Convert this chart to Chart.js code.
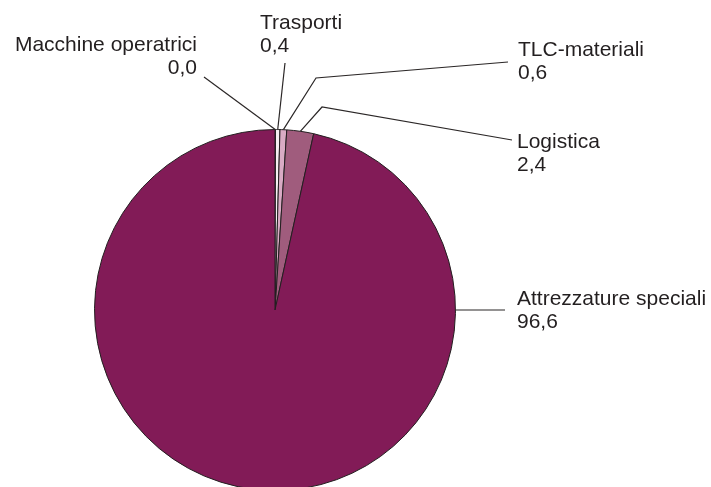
<!DOCTYPE html>
<html>
<head>
<meta charset="utf-8">
<script src="https://cdn.jsdelivr.net/npm/chart.js@4"></script>
<style>
  html, body { margin: 0; padding: 0; background: #ffffff; }
  #wrap { width: 711px; height: 487px; overflow: hidden; position: relative; }
</style>
</head>
<body>
<div id="wrap">
  <canvas id="pieChart" width="711" height="500"></canvas>
</div>
<script>
// dati del grafico
var categories = ['Macchine operatrici', 'Trasporti', 'TLC-materiali', 'Logistica', 'Attrezzature speciali'];
var values = [0.04, 0.4, 0.6, 2.4, 96.6];
var sliceColors = ['#f4eef1', '#f6eef2', '#d9abc4', '#a05c7d', '#821b57'];

// posizione delle etichette (layout, non dati)
var labelLayout = [
    { align: 'right', tx: 197, ty: 51, end: [204, 77] },
    { align: 'left', tx: 260, ty: 29, end: [285, 63] },
    { align: 'left', tx: 518, ty: 56, elbow: [316, 78], end: [508, 62] },
    { align: 'left', tx: 517, ty: 148, elbow: [322, 107], end: [512, 140] },
    { align: 'left', tx: 517, ty: 305, end: [505, 310], angle: 0 }
];

function formatValue(v) {
    return v.toFixed(1).replace('.', ',');
}

var leaderLabels = {
    id: 'leaderLabels',
    afterDraw: function(chart) {
        var ctx = chart.ctx;
        var meta = chart.getDatasetMeta(0);
        ctx.save();
        ctx.strokeStyle = '#2b2727';
        ctx.lineWidth = 1.2;
        ctx.fillStyle = '#231f20';
        ctx.font = '21px "Liberation Sans", Arial, sans-serif';
        ctx.textBaseline = 'alphabetic';
        meta.data.forEach(function(arc, i) {
            var p = arc.getProps(['x', 'y', 'startAngle', 'endAngle', 'outerRadius'], true);
            var lay = labelLayout[i];
            var a = (lay.angle !== undefined) ? lay.angle : (p.startAngle + p.endAngle) / 2;
            var sx = p.x + Math.cos(a) * p.outerRadius;
            var sy = p.y + Math.sin(a) * p.outerRadius;
            ctx.beginPath();
            ctx.moveTo(sx, sy);
            if (lay.elbow) ctx.lineTo(lay.elbow[0], lay.elbow[1]);
            ctx.lineTo(lay.end[0], lay.end[1]);
            ctx.stroke();

            ctx.textAlign = lay.align;
            ctx.fillText(categories[i], lay.tx, lay.ty);
            ctx.fillText(formatValue(values[i]), lay.tx, lay.ty + 23);
        });
        ctx.restore();
    }
};

var ctx = document.getElementById('pieChart').getContext('2d');
var myChart = new Chart(ctx, {
    type: 'pie',
    data: {
        labels: categories,
        datasets: [{
            data: values,
            backgroundColor: sliceColors,
            borderColor: '#231f20',
            borderWidth: 1
        }]
    },
    options: {
        responsive: false,
        animation: false,
        devicePixelRatio: 1,
        layout: {
            padding: { left: 94, right: 255, top: 129, bottom: 9 }
        },
        plugins: {
            legend: { display: false },
            tooltip: { enabled: false }
        }
    },
    plugins: [leaderLabels]
});
</script>
</body>
</html>
